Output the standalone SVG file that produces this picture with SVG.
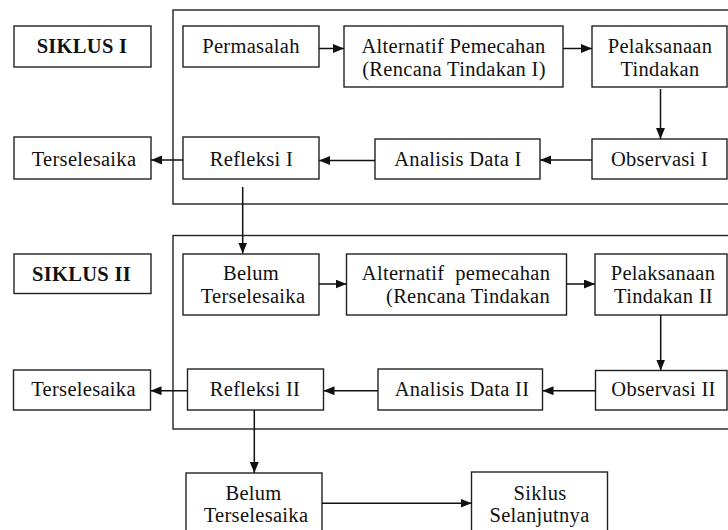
<svg xmlns="http://www.w3.org/2000/svg" width="728" height="530" viewBox="0 0 728 530">
<defs>
<style>
.b{fill:#fff;stroke:#222;stroke-width:1.4}
.f{fill:none;stroke:#222;stroke-width:1.4}
.t{font-family:"Liberation Serif","Times New Roman",serif;font-size:20.5px;fill:#111;text-anchor:middle;letter-spacing:0.3px}
.tb{font-weight:bold}
.c{fill:none;stroke:#111;stroke-width:1.5}
</style>
<marker id="ah" markerUnits="userSpaceOnUse" markerWidth="12" markerHeight="10" refX="11" refY="4.5" orient="auto">
<path d="M0,0 L11,4.5 L0,9 z" fill="#111"/>
</marker>
</defs>
<rect width="728" height="530" fill="#fff"/>
<g id="frame1"><rect class="f" x="173" y="10" width="570" height="194"/></g>
<g id="frame2"><rect class="f" x="173" y="235.5" width="570" height="193.5"/></g>

<g id="siklus1"><rect class="b" x="14" y="26" width="137" height="41"/><text class="t tb" x="82" y="53">SIKLUS  I</text></g>
<g id="permasalah"><rect class="b" x="183" y="26" width="136" height="41"/><text class="t" x="251" y="53">Permasalah</text></g>
<g id="alternatif1"><rect class="b" x="344" y="26" width="219" height="61"/><text class="t" x="453.5" y="53">Alternatif Pemecahan</text><text class="t" x="454" y="76">(Rencana Tindakan I)</text></g>
<g id="pelaksanaan1"><rect class="b" x="592" y="26" width="135" height="61"/><text class="t" x="660" y="53">Pelaksanaan</text><text class="t" x="660" y="76">Tindakan</text></g>
<g id="observasi1"><rect class="b" x="592" y="139" width="135" height="40"/><text class="t" x="659.5" y="165.5">Observasi I</text></g>
<g id="analisis1"><rect class="b" x="375" y="139" width="165" height="40"/><text class="t" x="458" y="165.5">Analisis Data I</text></g>
<g id="refleksi1"><rect class="b" x="183" y="137" width="136" height="42"/><text class="t" x="251.5" y="166">Refleksi I</text></g>
<g id="terselesaika1"><rect class="b" x="14" y="137" width="137" height="42"/><text class="t" x="84" y="166">Terselesaika</text></g>

<g id="siklus2"><rect class="b" x="14" y="254" width="137" height="39.5"/><text class="t tb" x="81.5" y="281">SIKLUS II</text></g>
<g id="belum2"><rect class="b" x="183" y="254" width="136" height="61"/><text class="t" x="251" y="280">Belum</text><text class="t" x="253" y="302.5">Terselesaika</text></g>
<g id="alternatif2"><rect class="b" x="346.5" y="254" width="220" height="61"/><text class="t" x="456" y="280" xml:space="preserve">Alternatif  pemecahan</text><text class="t" x="468" y="302.5">(Rencana Tindakan</text></g>
<g id="pelaksanaan2"><rect class="b" x="595" y="254" width="132" height="61"/><text class="t" x="663" y="280">Pelaksanaan</text><text class="t" x="663.5" y="302.5">Tindakan II</text></g>
<g id="observasi2"><rect class="b" x="595.5" y="370.5" width="131.5" height="39.5"/><text class="t" x="663.5" y="395.5">Observasi II</text></g>
<g id="analisis2"><rect class="b" x="378" y="369" width="164.5" height="41"/><text class="t" x="462" y="395.5">Analisis Data II</text></g>
<g id="refleksi2"><rect class="b" x="187.5" y="369" width="136" height="41"/><text class="t" x="255" y="395.5">Refleksi II</text></g>
<g id="terselesaika2"><rect class="b" x="13.5" y="370" width="137" height="40"/><text class="t" x="83.5" y="395.5">Terselesaika</text></g>

<g id="belum3"><rect class="b" x="186" y="473" width="136" height="70"/><text class="t" x="253.5" y="500">Belum</text><text class="t" x="256" y="521.5">Terselesaika</text></g>
<g id="siklus3"><rect class="b" x="471.5" y="472" width="136" height="70"/><text class="t" x="540" y="500">Siklus</text><text class="t" x="539.5" y="521.5">Selanjutnya</text></g>

<g id="connectors">
<line class="c" x1="319" y1="48.5" x2="344" y2="48.5" marker-end="url(#ah)"/>
<line class="c" x1="563" y1="48.5" x2="592" y2="48.5" marker-end="url(#ah)"/>
<line class="c" x1="660.5" y1="89" x2="660.5" y2="139" marker-end="url(#ah)"/>
<line class="c" x1="592" y1="160" x2="540" y2="160" marker-end="url(#ah)"/>
<line class="c" x1="375" y1="160.5" x2="319" y2="160.5" marker-end="url(#ah)"/>
<line class="c" x1="183" y1="160" x2="151" y2="160" marker-end="url(#ah)"/>
<line class="c" x1="242.7" y1="187" x2="242.7" y2="253.5" marker-end="url(#ah)"/>
<line class="c" x1="319" y1="284" x2="346.5" y2="284" marker-end="url(#ah)"/>
<line class="c" x1="566.5" y1="284" x2="595" y2="284" marker-end="url(#ah)"/>
<line class="c" x1="660.7" y1="315" x2="660.7" y2="370.5" marker-end="url(#ah)"/>
<line class="c" x1="595.5" y1="390.7" x2="542.5" y2="390.7" marker-end="url(#ah)"/>
<line class="c" x1="378" y1="390.7" x2="323.5" y2="390.7" marker-end="url(#ah)"/>
<line class="c" x1="187" y1="390.7" x2="150.5" y2="390.7" marker-end="url(#ah)"/>
<line class="c" x1="254.3" y1="410" x2="254.3" y2="473" marker-end="url(#ah)"/>
<line class="c" x1="322" y1="503.3" x2="471.5" y2="503.3" marker-end="url(#ah)"/>
</g>
</svg>
